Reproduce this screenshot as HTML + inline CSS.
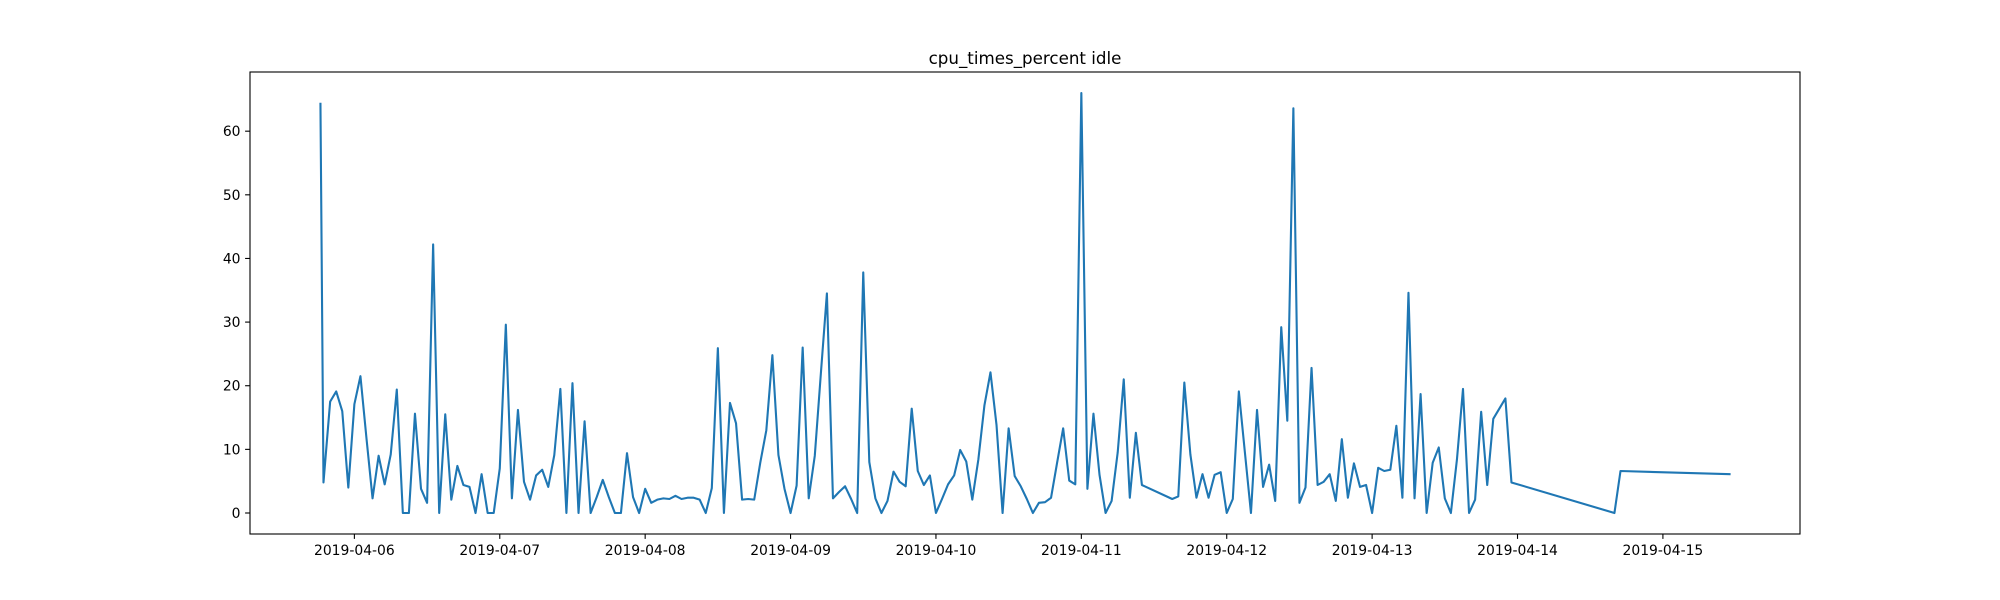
<!DOCTYPE html>
<html><head><meta charset="utf-8"><style>
html,body{margin:0;padding:0;background:#fff;}
svg{display:block;font-family:"DejaVu Sans","Liberation Sans",sans-serif;}
</style></head><body>
<svg id="chart" width="2000" height="600" xmlns="http://www.w3.org/2000/svg">
<rect x="0" y="0" width="2000" height="600" fill="#fff"/>
<text x="1025" y="64" text-anchor="middle" font-size="16.7" fill="#000">cpu_times_percent idle</text>
<g id="yticks"></g>
<g id="xticks"></g>
<path id="series" fill="none" stroke="#1f77b4" stroke-width="2.1" stroke-linejoin="round" stroke-linecap="square"/>
<rect x="250" y="72" width="1550" height="462" fill="none" stroke="#000" stroke-width="1.1"/>
</svg>
<script>
// hours since 2019-04-06 00:00
const hours = [-5.6,-5.1,-4,-3,-2,-1,0,1,2,3,4,5,6,7,8,9,10,11,12,13,14,15,16,17,18,19,20,21,22,23,24,25,26,27,28,29,30,31,32,33,34,35,36,37,38,39,40,41,42,43,44,45,46,47,48,49,50,51,52,53,54,55,56,57,58,59,60,61,62,63,64,65,66,67,68,69,70,71,72,73,74,75,76,77,78,79,80,81,82,83,84,85,86,87,88,89,90,91,92,93,94,95,96,97,98,99,100,101,102,103,104,105,106,107,108,109,110,111,112,113,114,115,116,117,118,119,120,121,122,123,124,125,126,127,128,129,130,135,136,137,138,139,140,141,142,143,144,145,146,147,148,149,150,151,152,153,154,155,156,157,158,159,160,161,162,163,164,165,166,167,168,169,170,171,172,173,174,175,176,177,178,179,180,181,182,183,184,185,186,187,188,190,191,208,209,227];
const idleValues = [64.3,4.8,17.5,19.1,16,4,17.1,21.5,11.7,2.3,9,4.5,9.2,19.4,0,0,15.6,3.8,1.6,42.2,0,15.5,2.1,7.4,4.4,4.1,0,6.1,0,0,7,29.6,2.3,16.2,4.9,2.1,5.9,6.8,4.1,9.1,19.5,0,20.4,0,14.4,0,2.5,5.2,2.5,0,0,9.4,2.5,0,3.8,1.6,2.1,2.3,2.2,2.7,2.2,2.4,2.4,2.1,0,3.9,25.9,0,17.3,14.1,2.1,2.2,2.1,7.9,13,24.8,9.1,3.8,0,4.3,26,2.3,9,21.9,34.5,2.3,3.3,4.2,2.2,0,37.8,8,2.3,0,1.9,6.5,4.9,4.2,16.4,6.6,4.4,5.9,0,2.2,4.5,5.9,9.9,8.1,2.1,8.4,16.9,22.1,13.8,0,13.3,5.8,4.2,2.2,0,1.6,1.7,2.4,7.9,13.3,5.1,4.5,66,3.8,15.6,6,0,1.9,9.5,21,2.4,12.6,4.4,2.2,2.6,20.5,9.2,2.4,6.1,2.4,6,6.4,0,2.2,19.1,9.5,0,16.2,4.1,7.6,1.9,29.2,14.5,63.6,1.6,4,22.8,4.4,4.9,6.1,1.9,11.6,2.4,7.8,4.1,4.4,0,7.1,6.6,6.8,13.7,2.4,34.6,2.3,18.7,0,7.9,10.3,2.3,0,8.4,19.5,0,2.1,15.9,4.4,14.8,18,4.8,0,6.6,6.1];
const yTicks = [0,10,20,30,40,50,60];
const xTickLabels = ["2019-04-06","2019-04-07","2019-04-08","2019-04-09","2019-04-10","2019-04-11","2019-04-12","2019-04-13","2019-04-14","2019-04-15"];
const xTickHours = [0,24,48,72,96,120,144,168,192,216];

const L=250,R=1800,T=72,B=534;
const hMin=Math.min(...hours),hMax=Math.max(...hours);
const vMin=Math.min(0,...idleValues),vMax=Math.max(...idleValues);
const hPad=(hMax-hMin)*0.05,vPad=(vMax-vMin)*0.05;
const x0=hMin-hPad,x1=hMax+hPad,y0=vMin-vPad,y1=vMax+vPad;
const sx=h=>L+(h-x0)/(x1-x0)*(R-L);
const sy=v=>B-(v-y0)/(y1-y0)*(B-T);
const NS="http://www.w3.org/2000/svg";
const yg=document.getElementById('yticks'),xg=document.getElementById('xticks');
yTicks.forEach(v=>{
  const y=sy(v);
  const ln=document.createElementNS(NS,'line');
  ln.setAttribute('x1',L-4.9);ln.setAttribute('x2',L);ln.setAttribute('y1',y);ln.setAttribute('y2',y);
  ln.setAttribute('stroke','#000');ln.setAttribute('stroke-width','1.1');
  
  
  yg.appendChild(ln);
  const t=document.createElementNS(NS,'text');
  t.setAttribute('x',L-9.5);t.setAttribute('y',y+5);t.setAttribute('text-anchor','end');t.setAttribute('font-size','13.9');
  t.textContent=String(v);
  
  
  yg.appendChild(t);
});
xTickHours.forEach((h,i)=>{
  const x=sx(h);
  const ln=document.createElementNS(NS,'line');
  ln.setAttribute('x1',x);ln.setAttribute('x2',x);ln.setAttribute('y1',B);ln.setAttribute('y2',B+4.9);
  ln.setAttribute('stroke','#000');ln.setAttribute('stroke-width','1.1');
  
  
  xg.appendChild(ln);
  const t=document.createElementNS(NS,'text');
  t.setAttribute('x',x);t.setAttribute('y',B+21);t.setAttribute('text-anchor','middle');t.setAttribute('font-size','13.9');
  t.textContent=xTickLabels[i];
  
  
  xg.appendChild(t);
});
document.getElementById('series').setAttribute('d',hours.map((h,i)=>(i?'L':'M')+sx(h).toFixed(2)+','+sy(idleValues[i]).toFixed(2)).join(''));
</script>
</body></html>
